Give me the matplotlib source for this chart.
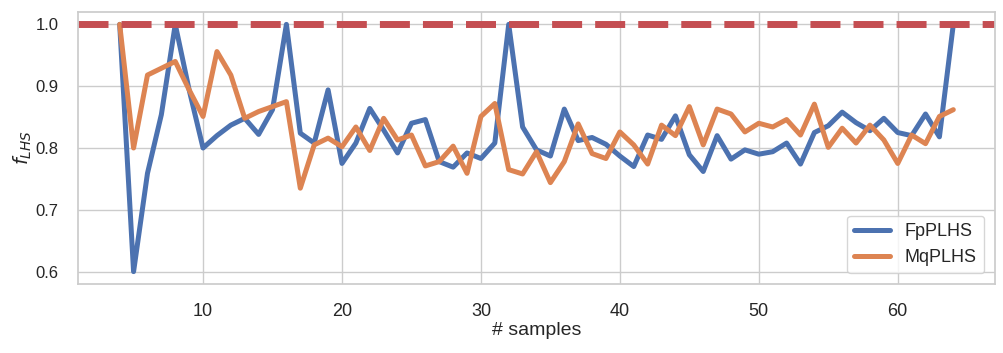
import matplotlib
matplotlib.use("Agg")
import matplotlib.pyplot as plt
import seaborn as sns
import numpy as np

samples = list(range(4, 65))
fp_plhs = [1.0, 0.6, 0.759, 0.854, 1.0, 0.894, 0.8, 0.82, 0.837, 0.848, 0.822, 0.862, 1.0,
           0.824, 0.808, 0.894, 0.775, 0.808, 0.864, 0.829, 0.792, 0.84, 0.846, 0.778,
           0.769, 0.792, 0.783, 0.808, 1.0, 0.834, 0.797, 0.787, 0.863, 0.812, 0.817,
           0.806, 0.787, 0.77, 0.821, 0.814, 0.852, 0.789, 0.762, 0.82, 0.782, 0.797,
           0.79, 0.794, 0.808, 0.774, 0.825, 0.836, 0.858, 0.841, 0.828, 0.848, 0.825,
           0.82, 0.855, 0.818, 1.0]
mq_plhs = [1.0, 0.8, 0.918, 0.929, 0.94, 0.894, 0.851, 0.956, 0.918, 0.848, 0.859, 0.867,
           0.875, 0.735, 0.805, 0.816, 0.802, 0.834, 0.796, 0.848, 0.813, 0.821, 0.771,
           0.778, 0.803, 0.759, 0.851, 0.872, 0.765, 0.758, 0.794, 0.744, 0.778, 0.839,
           0.791, 0.783, 0.826, 0.805, 0.774, 0.837, 0.82, 0.867, 0.805, 0.863, 0.855,
           0.826, 0.84, 0.834, 0.846, 0.821, 0.871, 0.801, 0.832, 0.808, 0.837, 0.813,
           0.775, 0.821, 0.807, 0.851, 0.862]
reference = 1.0

sns.set_theme(style="whitegrid")
plt.rcParams['font.family'] = ['Liberation Sans', 'DejaVu Sans']

fig = plt.figure(figsize=(10.04, 3.53), dpi=100)
ax = fig.add_axes([78/1004, 1 - 284/353, (995-78)/1004, (284-12)/353])
pal = sns.color_palette("deep")
ax.plot(samples, fp_plhs, color=pal[0], lw=3.6, label="FpPLHS")
ax.plot(samples, mq_plhs, color=pal[1], lw=3.6, label="MqPLHS")
ax.axhline(reference, color=pal[3], lw=5, ls=(0, (4.32, 1.88)))
ax.set_xlabel("# samples", fontsize=14, labelpad=1)
ax.set_ylabel("$f_{LHS}$", fontsize=14, labelpad=1)
ax.tick_params(axis="x", labelsize=13, pad=8)
ax.tick_params(axis="y", labelsize=12, pad=8)
ax.legend(loc="lower right", fontsize=13, borderaxespad=0.6)
fig.savefig("out.png", dpi=100)
